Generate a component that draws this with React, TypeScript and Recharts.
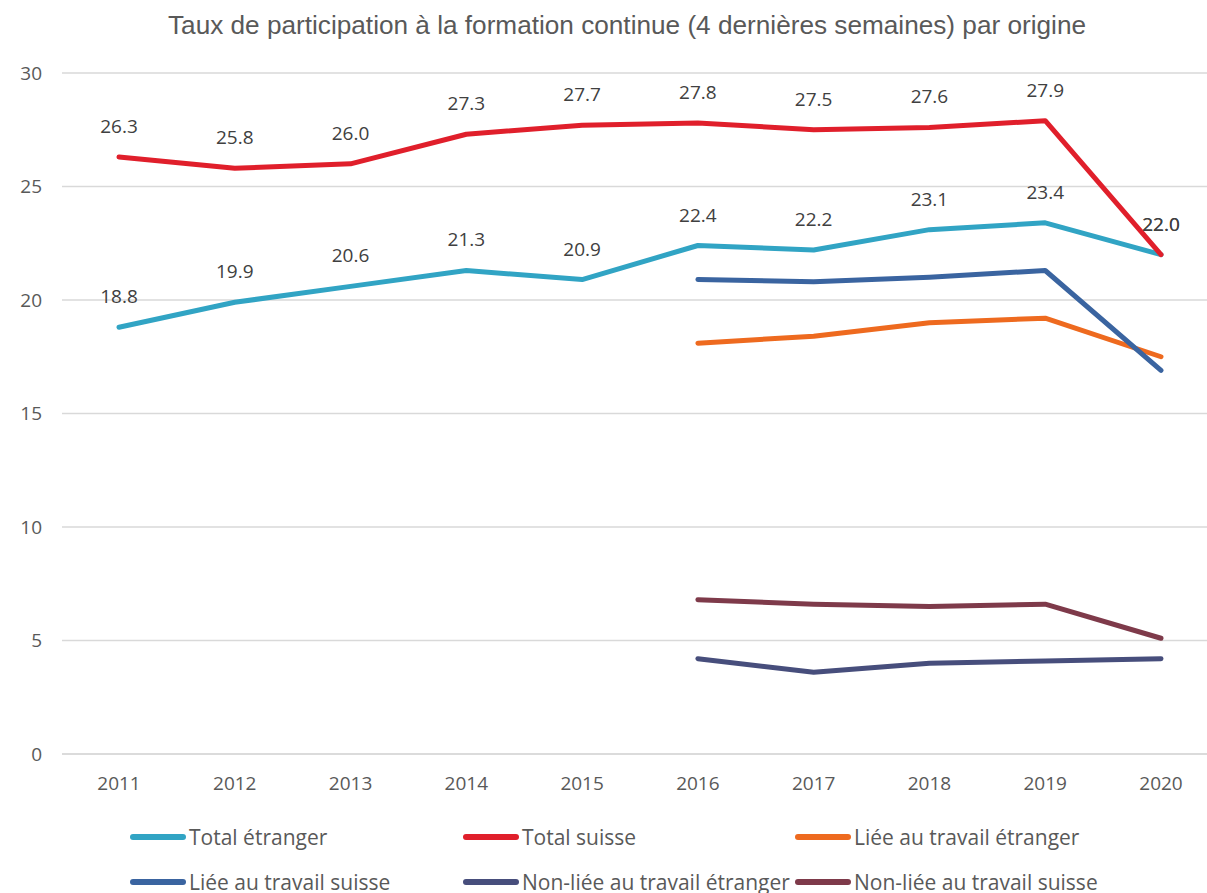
import React from "react";
import { LineChart, Line, XAxis, YAxis, CartesianGrid, Legend, LabelList } from "recharts";

const years = ["2011", "2012", "2013", "2014", "2015", "2016", "2017", "2018", "2019", "2020"];
const totalEtranger = [18.8, 19.9, 20.6, 21.3, 20.9, 22.4, 22.2, 23.1, 23.4, 22.0];
const totalSuisse = [26.3, 25.8, 26.0, 27.3, 27.7, 27.8, 27.5, 27.6, 27.9, 22.0];
const lieeEtranger = [null, null, null, null, null, 18.1, 18.4, 19.0, 19.2, 17.5];
const lieeSuisse = [null, null, null, null, null, 20.9, 20.8, 21.0, 21.3, 16.9];
const nonLieeEtranger = [null, null, null, null, null, 4.2, 3.6, 4.0, 4.1, 4.2];
const nonLieeSuisse = [null, null, null, null, null, 6.8, 6.6, 6.5, 6.6, 5.1];
const yTicks = [0, 5, 10, 15, 20, 25, 30];

const title = "Taux de participation à la formation continue (4 dernières semaines) par origine";

const series = [
  { key: "te", name: "Total étranger", values: totalEtranger, color: "#31A4C4", labels: true },
  { key: "ts", name: "Total suisse", values: totalSuisse, color: "#E01F2B", labels: true },
  { key: "le", name: "Liée au travail étranger", values: lieeEtranger, color: "#EE6A1F", labels: false },
  { key: "ls", name: "Liée au travail suisse", values: lieeSuisse, color: "#3A64A0", labels: false },
  { key: "ne", name: "Non-liée au travail étranger", values: nonLieeEtranger, color: "#474E7C", labels: false },
  { key: "ns", name: "Non-liée au travail suisse", values: nonLieeSuisse, color: "#7E3A4A", labels: false },
];

const data = years.map((y, i) => {
  const row: any = { year: y };
  series.forEach((s) => {
    row[s.key] = s.values[i];
  });
  return row;
});

const FONT = "'Open Sans', sans-serif";
const TEXT = "#595959";

const legendCols = [130, 463, 795];
const legendRows = [27, 72];

const renderLegend = () => (
  <svg width={1207} height={83} style={{ display: "block" }}>
    {series.map((s, i) => {
      const x = legendCols[i % 3];
      const y = legendRows[Math.floor(i / 3)];
      return (
        <g key={s.key}>
          <line x1={x + 3} x2={x + 53} y1={y} y2={y} stroke={s.color} strokeWidth={6} strokeLinecap="round" />
          <text x={x + 59} y={y} dominantBaseline="central" fontFamily={FONT} fontSize={21} fill={TEXT}>
            {s.name}
          </text>
        </g>
      );
    })}
  </svg>
);

export default function App() {
  return (
    <div style={{ position: "absolute", left: 0, top: 0, width: 1207, height: 893, background: "#fff", overflow: "hidden" }}>
      <LineChart width={1207} height={893} data={data} margin={{ top: 73, right: 0, bottom: 26, left: 0 }}>
        <CartesianGrid vertical={false} stroke="#D9D9D9" strokeWidth={1.5} />
        <XAxis
          dataKey="year"
          padding={{ left: 57, right: 46 }}
          axisLine={{ stroke: "#D9D9D9", strokeWidth: 1.5 }}
          tickLine={false}
          tickMargin={17}
          tick={{ fill: TEXT, fontSize: 19, fontFamily: FONT }}
          interval={0}
        />
        <YAxis
          width={62}
          domain={[0, 30]}
          ticks={yTicks}
          axisLine={false}
          tickLine={false}
          tickMargin={14}
          tick={{ fill: TEXT, fontSize: 19, fontFamily: FONT }}
        />
        <Legend
          content={renderLegend}
          wrapperStyle={{ position: "absolute", left: 0, top: 810, width: 1207, height: 83 }}
        />
        {series.map((s) => (
          <Line
            key={s.key}
            type="linear"
            dataKey={s.key}
            name={s.name}
            stroke={s.color}
            strokeWidth={5}
            strokeLinecap="round"
            strokeLinejoin="round"
            dot={false}
            activeDot={false}
            isAnimationActive={false}
          >
            {s.labels && (
              <LabelList
                dataKey={s.key}
                position="top"
                offset={24}
                fill="#404040"
                fontSize={19}
                fontFamily={FONT}
                formatter={(v: any) => (v == null ? "" : Number(v).toFixed(1))}
              />
            )}
          </Line>
        ))}
      </LineChart>
      <svg width={1207} height={60} style={{ position: "absolute", left: 0, top: 0 }}>
        <text
          x={627}
          y={34}
          textAnchor="middle"
          fontFamily="'Liberation Sans', Arial, sans-serif"
          fontSize={25}
          fill={TEXT}
          textLength={918}
          lengthAdjust="spacingAndGlyphs"
        >
          {title}
        </text>
      </svg>
    </div>
  );
}
